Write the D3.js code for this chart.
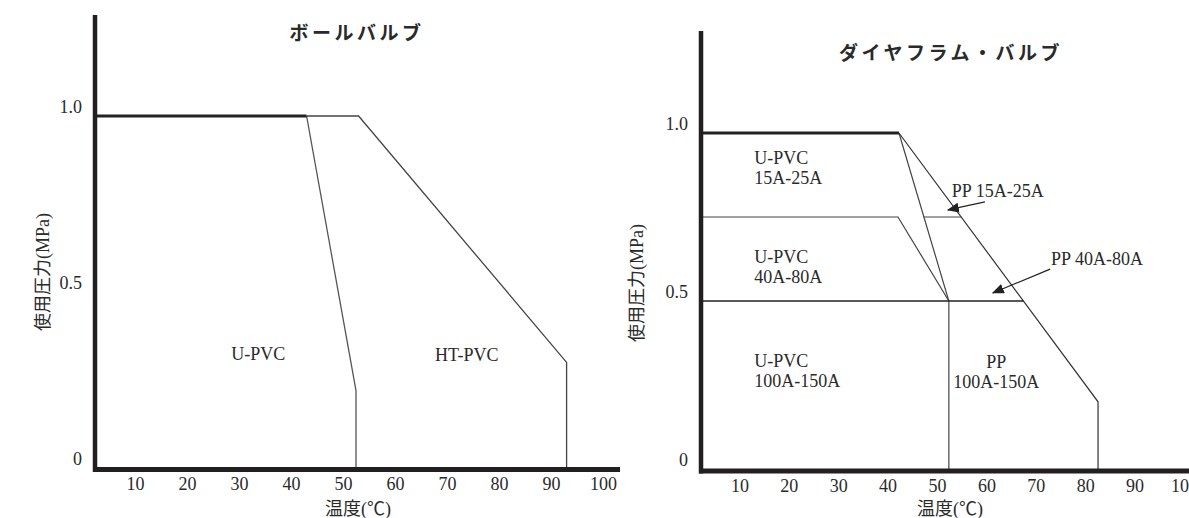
<!DOCTYPE html>
<html>
<head>
<meta charset="utf-8">
<script src="https://cdn.jsdelivr.net/npm/d3@7"></script>
<style>
  body { margin: 0; background: #fff; }
  svg text { fill: #2a2a2a; }
</style>
</head>
<body>
<script>
// Tick labels
const xTicks = [10, 20, 30, 40, 50, 60, 70, 80, 90, 100];
const yTicks = [0, 0.5, 1.0];

// Ball valve (°C, MPa)
const ballTop = [[2.3, 1.0], [43, 1.0]];
const ballUpvc = [[43, 1.0], [52.5, 0.22], [52.5, 0]];
const ballHtpvc = [[43, 1.0], [53, 1.0], [93, 0.3], [93, 0]];
const ballLabels = [
  { text: 'U-PVC', x: 33.7, y: 0.307 },
  { text: 'HT-PVC', x: 73.8, y: 0.304 }
];

// Diaphragm valve (°C, MPa)
const diaTop = [[2.2, 1.0], [42.3, 1.0]];
const diaUpvcSmall = [[42.3, 1.0], [52.4, 0.5], [52.4, 0]];
const diaPp = [[42.3, 1.0], [82.6, 0.2], [82.6, 0]];
const diaUpvcMid = [[2.2, 0.75], [42.1, 0.75], [52.4, 0.5]];
const diaPpSmall = [[47.3, 0.75], [54.9, 0.75]];
const diaHalf = [[2.2, 0.5], [67.5, 0.5]];
const diaLabels = [
  { lines: ['U-PVC', '15A-25A'], x: 13.0, y: 0.908, anchor: 'start' },
  { lines: ['U-PVC', '40A-80A'], x: 13.0, y: 0.613, anchor: 'start' },
  { lines: ['U-PVC', '100A-150A'], x: 13.0, y: 0.304, anchor: 'start' },
  { lines: ['PP', '100A-150A'], x: 62.0, y: 0.30, anchor: 'middle' }
];
const diaArrows = [
  { text: 'PP 15A-25A', tx: 53.0, ty: 0.81, from: [59.7, 0.795], to: [52.2, 0.771] },
  { text: 'PP 40A-80A', tx: 73.1, ty: 0.607, from: [72.9, 0.595], to: [61.3, 0.524] }
];

const serif = '"Liberation Serif", "Noto Sans CJK JP", serif';
const fs = '18px';

const svg = d3.select('body')
  .append('svg')
  .attr('width', 1189)
  .attr('height', 518);

svg.append('defs')
  .append('marker')
  .attr('id', 'arrow')
  .attr('viewBox', '0 0 12 10')
  .attr('refX', 11)
  .attr('refY', 5)
  .attr('markerWidth', 12)
  .attr('markerHeight', 10)
  .attr('markerUnits', 'userSpaceOnUse')
  .attr('orient', 'auto')
  .append('path')
  .attr('d', 'M0,0 L12,5 L0,10 Z')
  .attr('fill', '#222');

const line = (x, y) => d3.line().x(d => x(d[0])).y(d => y(d[1]));

function panel(cfg) {
  const x = d3.scaleLinear().domain([0, 100]).range(cfg.xRange);
  const y = d3.scaleLinear().domain([0, 1]).range(cfg.yRange);
  const g = svg.append('g');

  // ticks
  g.append('g')
    .attr('transform', `translate(${cfg.axisX}, 0)`)
    .style('font-family', serif)
    .style('font-size', fs)
    .call(d3.axisLeft(y).tickValues(yTicks).tickSize(0).tickPadding(13)
      .tickFormat(d => (d === 0 ? '0' : d.toFixed(1))))
    .call(a => a.select('.domain').remove())
    .call(a => a.selectAll('text').attr('fill', '#2a2a2a').attr('dy', '-0.2em'));

  g.append('g')
    .attr('transform', `translate(0, ${cfg.axisY})`)
    .style('font-family', serif)
    .style('font-size', fs)
    .call(d3.axisBottom(x).tickValues(xTicks).tickSize(0).tickPadding(8))
    .call(a => a.select('.domain').remove())
    .call(a => a.selectAll('text').attr('fill', '#2a2a2a'));

  return { x, y, g };
}

function drawAxes(g, c) {
  g.append('line')
    .attr('x1', c.axisX).attr('x2', c.axisX)
    .attr('y1', c.axisTop).attr('y2', c.axisY + 2.5)
    .attr('stroke', '#231f20').attr('stroke-width', 4.5);
  g.append('line')
    .attr('x1', c.axisX - 2).attr('x2', c.axisRight)
    .attr('y1', c.axisY).attr('y2', c.axisY)
    .attr('stroke', '#231f20').attr('stroke-width', 5);
}

function path(g, ln, data, w, color) {
  g.append('path')
    .datum(data)
    .attr('d', ln)
    .attr('fill', 'none')
    .attr('stroke', color)
    .attr('stroke-width', w)
    .attr('stroke-linejoin', 'miter');
}

// ---- Ball valve
const c1 = { xRange: [83, 603], yRange: [468, 116], axisX: 95, axisY: 469.5, axisTop: 15, axisRight: 620 };
const p1 = panel(c1);
const l1 = line(p1.x, p1.y);
path(p1.g, l1, ballUpvc, 1.3, '#555');
path(p1.g, l1, ballHtpvc, 1.3, '#444');
path(p1.g, l1, ballTop, 2.8, '#222');
drawAxes(p1.g, c1);

p1.g.selectAll('.lbl')
  .data(ballLabels)
  .enter()
  .append('text')
  .attr('x', d => p1.x(d.x))
  .attr('y', d => p1.y(d.y))
  .attr('text-anchor', 'middle')
  .style('font-family', serif)
  .style('font-size', fs)
  .text(d => d.text);

p1.g.append('text')
  .attr('x', 357).attr('y', 40)
  .attr('text-anchor', 'middle')
  .style('font-family', '"Noto Sans CJK JP", sans-serif')
  .style('font-weight', 'bold')
  .style('font-size', '19px')
  .style('letter-spacing', '3.5px')
  .text('ボールバルブ');

p1.g.append('text')
  .attr('transform', 'translate(49, 272) rotate(-90)')
  .attr('text-anchor', 'middle')
  .style('font-family', serif)
  .style('font-size', fs)
  .text('使用圧力(MPa)');

p1.g.append('text')
  .attr('x', 358).attr('y', 515)
  .attr('text-anchor', 'middle')
  .style('font-family', serif)
  .style('font-size', fs)
  .text('温度(℃)');

// ---- Diaphragm valve
const c2 = { xRange: [690, 1184], yRange: [469, 133], axisX: 701, axisY: 471, axisTop: 31, axisRight: 1189 };
const p2 = panel(c2);
const l2 = line(p2.x, p2.y);
path(p2.g, l2, diaUpvcSmall, 1.2, '#444');
path(p2.g, l2, diaPp, 1.2, '#333');
path(p2.g, l2, diaUpvcMid, 1.2, '#444');
path(p2.g, l2, diaPpSmall, 1.2, '#444');
path(p2.g, l2, diaHalf, 1.4, '#222');
path(p2.g, l2, diaTop, 2.8, '#222');
drawAxes(p2.g, c2);

const dl = p2.g.selectAll('.lbl')
  .data(diaLabels)
  .enter()
  .append('text')
  .attr('text-anchor', d => d.anchor)
  .style('font-family', serif)
  .style('font-size', fs);
dl.selectAll('tspan')
  .data(d => d.lines.map((t, i) => ({ t, i, d })))
  .enter()
  .append('tspan')
  .attr('x', e => p2.x(e.d.x))
  .attr('y', e => p2.y(e.d.y) + e.i * 20)
  .text(e => e.t);

p2.g.selectAll('.arr')
  .data(diaArrows)
  .enter()
  .append('line')
  .attr('x1', d => p2.x(d.from[0]))
  .attr('y1', d => p2.y(d.from[1]))
  .attr('x2', d => p2.x(d.to[0]))
  .attr('y2', d => p2.y(d.to[1]))
  .attr('stroke', '#222')
  .attr('stroke-width', 1.2)
  .attr('marker-end', 'url(#arrow)');

p2.g.selectAll('.arrtxt')
  .data(diaArrows)
  .enter()
  .append('text')
  .attr('x', d => p2.x(d.tx))
  .attr('y', d => p2.y(d.ty))
  .style('font-family', serif)
  .style('font-size', fs)
  .text(d => d.text);

p2.g.append('text')
  .attr('x', 951).attr('y', 60)
  .attr('text-anchor', 'middle')
  .style('font-family', '"Noto Sans CJK JP", sans-serif')
  .style('font-weight', 'bold')
  .style('font-size', '19px')
  .style('letter-spacing', '3.5px')
  .text('ダイヤフラム・バルブ');

p2.g.append('text')
  .attr('transform', 'translate(643, 283) rotate(-90)')
  .attr('text-anchor', 'middle')
  .style('font-family', serif)
  .style('font-size', fs)
  .text('使用圧力(MPa)');

p2.g.append('text')
  .attr('x', 950).attr('y', 515)
  .attr('text-anchor', 'middle')
  .style('font-family', serif)
  .style('font-size', fs)
  .text('温度(℃)');
</script>
</body>
</html>
